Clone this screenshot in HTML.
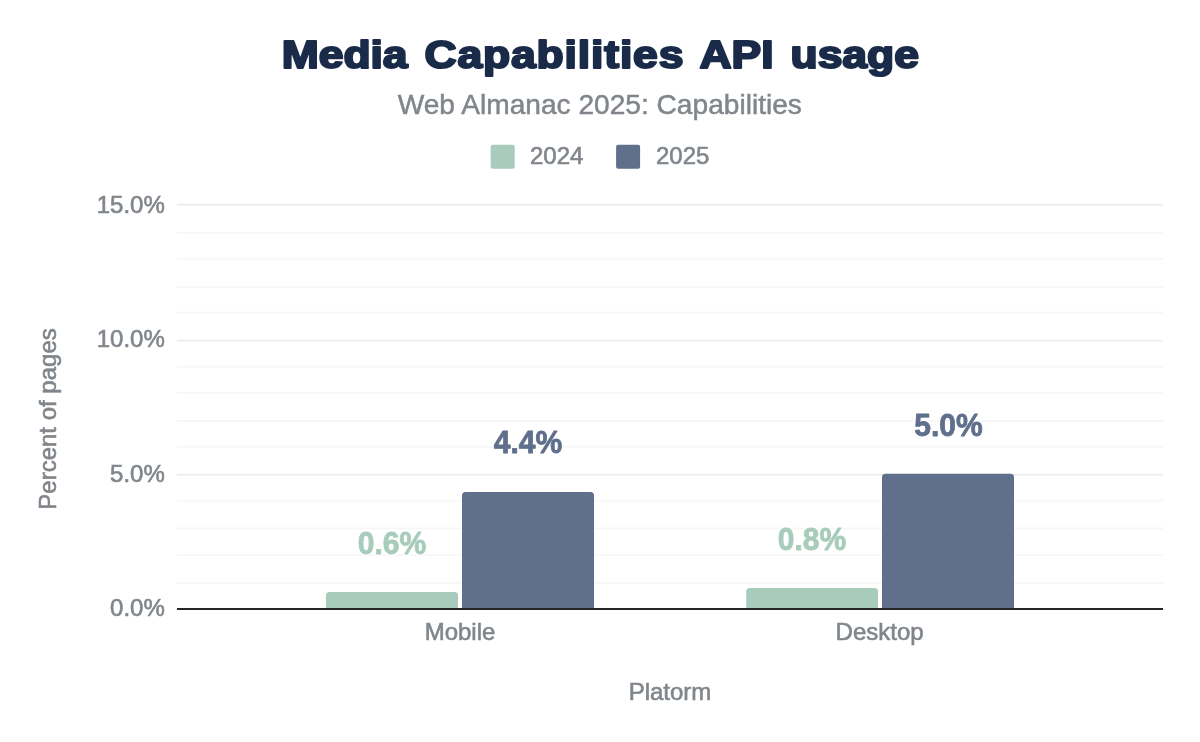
<!DOCTYPE html>
<html lang="en">
<head>
<meta charset="utf-8">
<title>Media Capabilities API usage</title>
<style>
html,body{margin:0;padding:0;background:#fff;}
body{width:1200px;height:742px;overflow:hidden;}
svg{display:block;}
text{font-family:"Liberation Sans",Arial,Helvetica,sans-serif;}
.title{font-weight:700;font-size:38px;fill:#1a2b49;stroke:#1a2b49;stroke-width:2.100px;stroke-linejoin:round;}
.sub{font-size:28.120px;fill:#80868b;stroke:#80868b;stroke-width:0.5px;}
.ax{font-size:24px;fill:#80868b;stroke:#80868b;stroke-width:0.600px;}
.dl{font-weight:700;font-size:31.600px;stroke-width:0.8px;stroke-linejoin:round;filter:url(#halo);}
.g1{fill:#a8ccbb;stroke:#a8ccbb;}
.g2{fill:#5f6f8c;stroke:#5f6f8c;}
.minor{stroke:#f7f7f7;stroke-width:1.800;}
.major{stroke:#edeeee;stroke-width:1.900;}
</style>
</head>
<body>
<svg width="1200" height="742" viewBox="0 0 1200 742">
<defs>
<filter id="halo" x="-10%" y="-25%" width="120%" height="150%" color-interpolation-filters="sRGB">
<feMorphology in="SourceAlpha" operator="dilate" radius="1.2" result="d"/>
<feFlood flood-color="#ffffff" result="f"/>
<feComposite in="f" in2="d" operator="in" result="h"/>
<feMerge><feMergeNode in="h"/><feMergeNode in="SourceGraphic"/></feMerge>
</filter>
</defs>
<rect width="1200" height="742" fill="#ffffff"/>
<!-- title -->
<text class="title" transform="translate(600.300,67.700) scale(1.170,1)" text-anchor="middle" word-spacing="3.900">Media <tspan letter-spacing="0.730">Capabilities</tspan> API usage</text>
<text class="sub" x="599.800" y="113.900" text-anchor="middle">Web Almanac 2025: Capabilities</text>
<!-- legend -->
<rect x="490.700" y="144.800" width="24" height="24" rx="2" fill="#a8ccbb"/>
<text class="ax" x="530" y="163.900" >2024</text>
<rect x="616.100" y="144.800" width="24" height="24" rx="2" fill="#5f6f8c"/>
<text class="ax" x="656" y="163.900">2025</text>
<!-- grid -->
<g id="grid">
<line class="major" x1="177" x2="1163" y1="204.7" y2="204.7"/>
<line class="minor" x1="177" x2="1163" y1="232.8" y2="232.8"/>
<line class="minor" x1="177" x2="1163" y1="258.9" y2="258.9"/>
<line class="minor" x1="177" x2="1163" y1="287" y2="287"/>
<line class="minor" x1="177" x2="1163" y1="312.6" y2="312.6"/>
<line class="major" x1="177" x2="1163" y1="340.6" y2="340.6"/>
<line class="minor" x1="177" x2="1163" y1="366.8" y2="366.8"/>
<line class="minor" x1="177" x2="1163" y1="392.9" y2="392.9"/>
<line class="minor" x1="177" x2="1163" y1="421" y2="421"/>
<line class="minor" x1="177" x2="1163" y1="446.8" y2="446.8"/>
<line class="major" x1="177" x2="1163" y1="474.7" y2="474.7"/>
<line class="minor" x1="177" x2="1163" y1="500.6" y2="500.6"/>
<line class="minor" x1="177" x2="1163" y1="528.5" y2="528.5"/>
<line class="minor" x1="177" x2="1163" y1="555.2" y2="555.2"/>
<line class="minor" x1="177" x2="1163" y1="583" y2="583"/>
</g>
<!-- y labels -->
<text class="ax" x="164.800" y="212.900" text-anchor="end">15.0%</text>
<text class="ax" x="164.800" y="347" text-anchor="end">10.0%</text>
<text class="ax" x="164.800" y="482.400" text-anchor="end">5.0%</text>
<text class="ax" x="164.800" y="616.400" text-anchor="end">0.0%</text>
<text class="ax" transform="translate(56,419) rotate(-90)" text-anchor="middle">Percent of pages</text>
<!-- bars -->
<path d="M326 608V595.500a3.500 3.500 0 0 1 3.500-3.500H454.500a3.500 3.500 0 0 1 3.500 3.500V608Z" fill="#a8ccbb"/>
<path d="M462 608V495.500a3.500 3.500 0 0 1 3.500-3.500H590.500a3.500 3.500 0 0 1 3.500 3.500V608Z" fill="#5f6f8c"/>
<path d="M746.200 608V591.500a3.500 3.500 0 0 1 3.500-3.500H874.500a3.500 3.500 0 0 1 3.500 3.500V608Z" fill="#a8ccbb"/>
<path d="M882 608V477.300a3.500 3.500 0 0 1 3.500-3.500H1010.500a3.500 3.500 0 0 1 3.500 3.500V608Z" fill="#5f6f8c"/>
<!-- baseline -->
<line x1="177" x2="1163" y1="609" y2="609" stroke="#262626" stroke-width="2"/>
<!-- data labels -->
<text class="dl g1" x="392" y="553.600" text-anchor="middle" textLength="68.400" lengthAdjust="spacingAndGlyphs">0.6%</text>
<text class="dl g2" x="527.900" y="452.700" text-anchor="middle" textLength="68.400" lengthAdjust="spacingAndGlyphs">4.4%</text>
<text class="dl g1" x="812" y="549.700" text-anchor="middle" textLength="68.400" lengthAdjust="spacingAndGlyphs">0.8%</text>
<text class="dl g2" x="948.400" y="435.700" text-anchor="middle" textLength="68.400" lengthAdjust="spacingAndGlyphs">5.0%</text>
<!-- x labels -->
<text class="ax" x="460" y="640" text-anchor="middle">Mobile</text>
<text class="ax" x="879.600" y="640" text-anchor="middle">Desktop</text>
<text class="ax" x="670" y="699.500" text-anchor="middle">Platorm</text>
</svg>
</body>
</html>
